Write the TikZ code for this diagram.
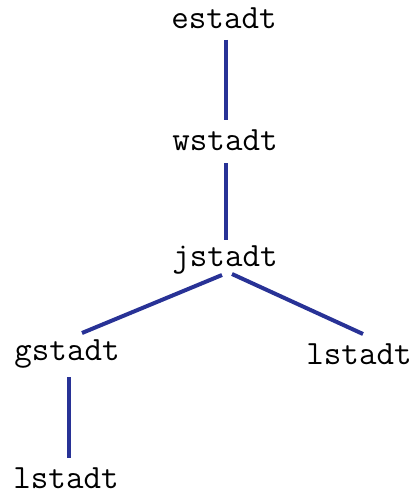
\documentclass[tikz,border=0pt]{standalone}
\usepackage{fontspec}
\usetikzlibrary{calc}
\definecolor{edgeblue}{RGB}{40,50,150}
\begin{document}
\begin{tikzpicture}[x=1pt,y=-1pt,
  lbl/.style={font=\fontsize{34}{34}\selectfont\ttfamily, inner sep=0pt},
  edge/.style={draw=edgeblue, line width=4pt}]
\useasboundingbox (0,0) rectangle (417,495);
\node[lbl] (e) at (224,18) {estadt};
\node[lbl] (w) at (225,140) {wstadt};
\node[lbl] (j) at (225,260) {jstadt};
\node[lbl] (g) at (67,354) {gstadt};
\node[lbl] (l1) at (359,354) {lstadt};
\node[lbl] (l2) at (66,478) {lstadt};
\draw[edge] ($(e)+(2,22)$) -- ($(w)+(1,-20)$);
\draw[edge] ($(w)+(1,23)$) -- ($(j)+(1,-20)$);
\draw[edge] ($(j)+(-3,15)$) -- ($(g)+(15,-21)$);
\draw[edge] ($(j)+(7,14)$) -- ($(l1)+(4,-20)$);
\draw[edge] ($(g)+(2,23)$) -- ($(l2)+(3,-20)$);
\end{tikzpicture}
\end{document}
